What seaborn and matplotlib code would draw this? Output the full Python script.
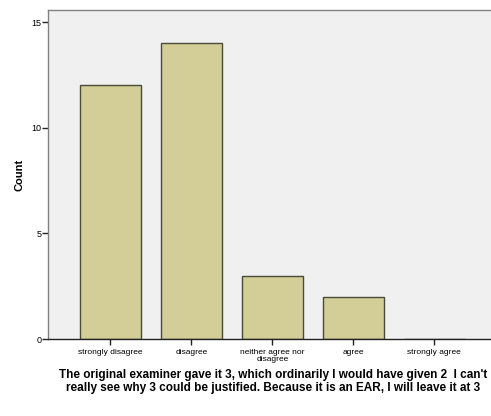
import numpy as np
import pandas as pd
import matplotlib
matplotlib.use("Agg")
import matplotlib.pyplot as plt
import seaborn as sns

categories = ["strongly disagree", "disagree", "neither agree nor\ndisagree", "agree", "strongly agree"]
counts = [12, 14, 3, 2, 0]
caption = ("The original examiner gave it 3, which ordinarily I would have given 2  I can't\n"
           "really see why 3 could be justified. Because it is an EAR, I will leave it at 3")

sns.set_style("white")
plt.rcParams["font.family"] = ["Liberation Sans", "DejaVu Sans"]
plt.rcParams["text.color"] = "black"
plt.rcParams["axes.labelcolor"] = "black"
plt.rcParams["xtick.color"] = "black"
plt.rcParams["ytick.color"] = "black"
plt.rcParams["xtick.bottom"] = True
plt.rcParams["ytick.left"] = True

df = pd.DataFrame({"answer": categories, "Count": counts})

fig = plt.figure(figsize=(4.91, 4.16), dpi=100)
ax = fig.add_axes([0.098, 0.185, 0.902, 0.791])
ax.set_facecolor("#F0F0F0")
sns.barplot(data=df, x="answer", y="Count", color="#D3CE97", saturation=1,
            width=0.75, edgecolor="#4A4A3A", linewidth=1.0, ax=ax)
ax.set_xlim(-0.77, 4.70)
ax.set_ylim(0, 15.57)
ax.set_yticks([0, 5, 10, 15])
ax.set_xlabel("")
ax.set_ylabel("Count", fontsize=8, fontweight="bold", labelpad=5)
ax.tick_params(axis="both", which="both", length=4, width=1, color="#222222",
               labelsize=6, direction="out")
ax.tick_params(axis="y", labelsize=6.5, pad=1)
ax.tick_params(axis="x", pad=3)
for s in ["left", "top"]:
    ax.spines[s].set_color("#808080")
    ax.spines[s].set_linewidth(1)
ax.spines["right"].set_visible(False)
ax.spines["bottom"].set_color("#222222")
ax.spines["bottom"].set_linewidth(1)
for lab in ax.get_xticklabels():
    lab.set_linespacing(1.05)

fig.text(0.557, 0.052, caption, ha="center", va="bottom", fontsize=8.5,
         fontweight="bold", linespacing=1.1)

fig.savefig("out.png", dpi=100)
